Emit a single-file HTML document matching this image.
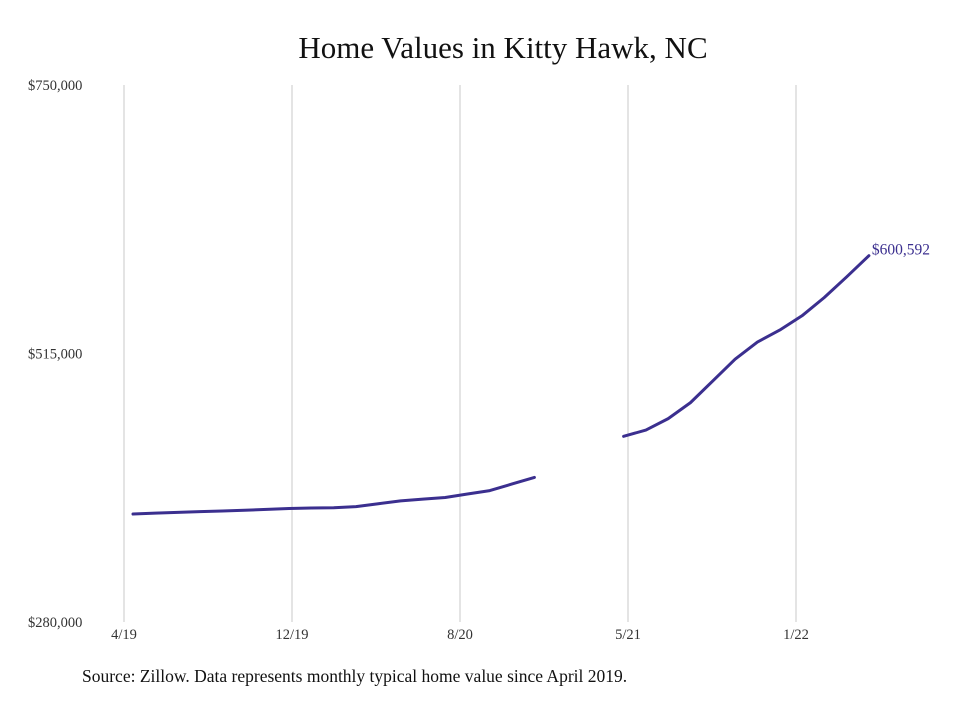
<!DOCTYPE html>
<html><head><meta charset="utf-8"><style>
body{margin:0;background:#fff;}
svg text{font-family:"Liberation Serif",serif;}
</style></head><body>
<svg width="980" height="699" viewBox="0 0 980 699">
<rect width="980" height="699" fill="#fff"/>
<text x="503" y="58" text-anchor="middle" font-size="31" fill="#111">Home Values in Kitty Hawk, NC</text>
<g id="grid"></g><g id="ylab"></g><g id="xlab"></g><g id="lines"></g>
<text x="82" y="682" font-size="17.5" fill="#111">Source: Zillow. Data represents monthly typical home value since April 2019.</text>
</svg>
<script>
const yTicks=[280000,515000,750000];
const yTickLabels=["$280,000","$515,000","$750,000"];
const xTickIdx=[0,8,16,24,32];
const xTickLabels=["4/19","12/19","8/20","5/21","1/22"];
const seg1Idx=[0,1,2,3,4,5,6,7,8,9,10,11,12,13,14,15,16,17,18];
const seg1Vals=[374500,375300,376000,376600,377100,377800,378600,379300,379800,380000,381000,383500,386000,387500,389000,392000,395000,400800,406500];
const seg2Idx=[22,23,24,25,26,27,28,29,30,31,32,33];
const seg2Vals=[442500,448000,458000,472000,491000,510000,525000,535500,548000,564000,582000,600592];
const lastLabel="$600,592";
const NS="http://www.w3.org/2000/svg";
const y=v=>622-(v-280000)*(537/470000);
const xl=i=>124+21*i;
const xd=i=>133+22.3*i;
function mk(t,a,p){const e=document.createElementNS(NS,t);for(const k in a)e.setAttribute(k,a[k]);p.appendChild(e);return e;}
const grid=document.getElementById('grid'),yl=document.getElementById('ylab'),xlb=document.getElementById('xlab'),ln=document.getElementById('lines');
xTickIdx.forEach((m,i)=>{
 const g=mk('line',{x1:xl(m),x2:xl(m),y1:85,y2:622,stroke:'#c8c8c8','stroke-width':1},grid);
 
 
 const t=mk('text',{x:xl(m),y:639,'text-anchor':'middle','font-size':14.5,fill:'#333'},xlb);
 t.textContent=xTickLabels[i];
 
 
});
yTicks.forEach((v,i)=>{
 const t=mk('text',{x:28,y:y(v)+5,'font-size':14.5,fill:'#333'},yl);
 t.textContent=yTickLabels[i];
 
 
});
[[seg1Idx,seg1Vals],[seg2Idx,seg2Vals]].forEach(([ix,vs],k)=>{
 const p=mk('polyline',{points:ix.map((m,i)=>xd(m)+','+y(vs[i])).join(' '),fill:'none',stroke:'#3b2f8f','stroke-width':3,'stroke-linejoin':'round','stroke-linecap':'round'},ln);
 
 
});
const li=seg2Idx.length-1;
const lt=mk('text',{x:xd(seg2Idx[li])+3,y:y(seg2Vals[li])-1,'font-size':15.5,fill:'#3b2f8f'},ln);
lt.textContent=lastLabel;


</script>
</body></html>
